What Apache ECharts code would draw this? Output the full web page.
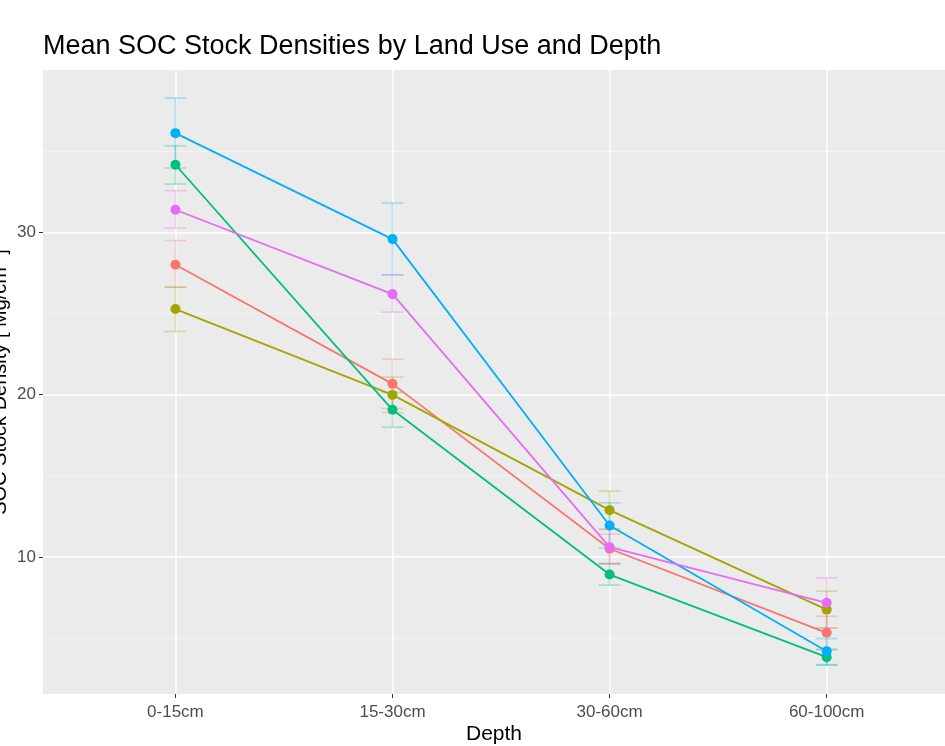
<!DOCTYPE html>
<html><head><meta charset="utf-8">
<script src="https://cdn.jsdelivr.net/npm/echarts@6/dist/echarts.min.js"></script>
<style>html,body{margin:0;padding:0;background:#fff}#c{width:945px;height:746px}</style>
</head><body><div id="c"></div>
<script>
// Data
const depths = ['0-15cm', '15-30cm', '30-60cm', '60-100cm'];
const landUses = ['Land use A', 'Land use B', 'Land use C', 'Land use D', 'Land use E'];
const yMajorTicks = [10, 20, 30];
const yMinorTicks = [5, 15, 25, 35];

const meanA = [28.0, 20.66, 10.5, 5.32];
const lowA  = [26.62, 19.14, 9.6, 4.29];
const highA = [29.49, 22.18, 11.4, 6.34];

const meanB = [25.27, 19.98, 12.88, 6.75];
const lowB  = [23.89, 18.89, 11.71, 5.62];
const highB = [26.62, 21.08, 14.05, 7.89];

const meanC = [34.16, 19.06, 8.91, 3.82];
const lowC  = [32.97, 17.99, 8.26, 3.33];
const highC = [35.33, 20.13, 9.57, 4.29];

const meanD = [36.11, 29.58, 11.93, 4.19];
const lowD  = [33.96, 27.38, 10.54, 3.36];
const highD = [38.27, 31.8, 13.33, 4.97];

const meanE = [31.39, 26.19, 10.6, 7.17];
const lowE  = [30.26, 25.08, 9.57, 5.62];
const highE = [32.56, 27.38, 11.68, 8.71];

const means = [meanA, meanB, meanC, meanD, meanE];
const lows = [lowA, lowB, lowC, lowD, lowE];
const highs = [highA, highB, highC, highD, highE];
const colors = ['#F8766D', '#A3A500', '#00BF7D', '#00B0F6', '#E76BF3'];

const chart = echarts.init(document.getElementById('c'), null, {renderer: 'canvas'});
const FONT = 'Liberation Sans, Arial, Helvetica, sans-serif';
const capHalf = 0.05;

const series = [];
landUses.forEach((name, k) => {
  series.push({
    name: name,
    type: 'custom',
    xAxisIndex: 0, yAxisIndex: 0,
    z: 2,
    data: depths.map((d, i) => [i, lows[k][i], highs[k][i]]),
    encode: {x: 0, y: [1, 2]},
    renderItem: function (params, api) {
      const x = api.value(0), lo = api.value(1), hi = api.value(2);
      const pLo = api.coord([x, lo]), pHi = api.coord([x, hi]);
      const a1 = api.coord([x - capHalf, hi]), a2 = api.coord([x + capHalf, hi]);
      const b1 = api.coord([x - capHalf, lo]), b2 = api.coord([x + capHalf, lo]);
      const st = {stroke: colors[k], lineWidth: 1.7, opacity: 0.3};
      return {type: 'group', children: [
        {type: 'line', shape: {x1: pLo[0], y1: pLo[1], x2: pHi[0], y2: pHi[1]}, style: st},
        {type: 'line', shape: {x1: a1[0], y1: a1[1], x2: a2[0], y2: a2[1]}, style: st},
        {type: 'line', shape: {x1: b1[0], y1: b1[1], x2: b2[0], y2: b2[1]}, style: st}
      ]};
    },
    silent: true
  });
});
landUses.forEach((name, k) => {
  series.push({
    name: name,
    type: 'line',
    xAxisIndex: 0, yAxisIndex: 0,
    z: 3,
    data: depths.map((d, i) => [i, means[k][i]]),
    symbol: 'circle',
    symbolSize: 10,
    showSymbol: true,
    itemStyle: {color: colors[k], opacity: 1},
    lineStyle: {color: colors[k], width: 1.8},
    animation: false
  });
});

chart.setOption({
  animation: false,
  backgroundColor: '#ffffff',
  title: {
    text: 'Mean SOC Stock Densities by Land Use and Depth',
    left: 38, top: 28,
    textStyle: {fontFamily: FONT, fontSize: 27, fontWeight: 'normal', color: '#000'}
  },
  grid: {
    left: 43, right: 0, top: 70, bottom: 52,
    show: true, backgroundColor: '#EBEBEB', borderWidth: 0,
    containLabel: false, outerBoundsMode: 'none'
  },
  xAxis: {
    type: 'value', min: -0.61, max: 3.545,
    name: 'Depth', nameLocation: 'middle', nameGap: 30, nameMoveOverlap: false,
    nameTextStyle: {fontFamily: FONT, fontSize: 21, color: '#000'},
    axisLine: {show: false, onZero: false},
    axisTick: {show: true, length: 4, customValues: [0, 1, 2, 3], lineStyle: {color: '#333', width: 1}},
    axisLabel: {customValues: [0, 1, 2, 3], formatter: v => depths[Math.round(v)], margin: 10,
      fontFamily: FONT, fontSize: 17, color: '#4D4D4D'},
    splitLine: {show: true, lineStyle: {color: '#ffffff', width: 1.5}}
  },
  yAxis: [{
    type: 'value', min: 1.55, max: 40, position: 'left',
    name: 'SOC Stock Density [ Mg/cm³ ]', nameLocation: 'middle', nameRotate: 90, nameGap: 33,
    nameMoveOverlap: false,
    nameTextStyle: {fontFamily: FONT, fontSize: 20, color: '#000'},
    axisLine: {show: false, onZero: false},
    axisTick: {show: true, length: 4, customValues: yMajorTicks, lineStyle: {color: '#333', width: 1}},
    axisLabel: {customValues: yMajorTicks, margin: 7, fontFamily: FONT, fontSize: 17, color: '#4D4D4D'},
    splitLine: {show: true, lineStyle: {color: '#ffffff', width: 1.5}}
  }, {
    type: 'value', min: 1.55, max: 40, position: 'left',
    axisLine: {show: false, onZero: false},
    axisTick: {show: false, customValues: yMinorTicks},
    axisLabel: {show: false, customValues: yMinorTicks},
    splitLine: {show: true, lineStyle: {color: '#F5F5F5', width: 0.8}}
  }],
  series: series
});
</script>
</body></html>
